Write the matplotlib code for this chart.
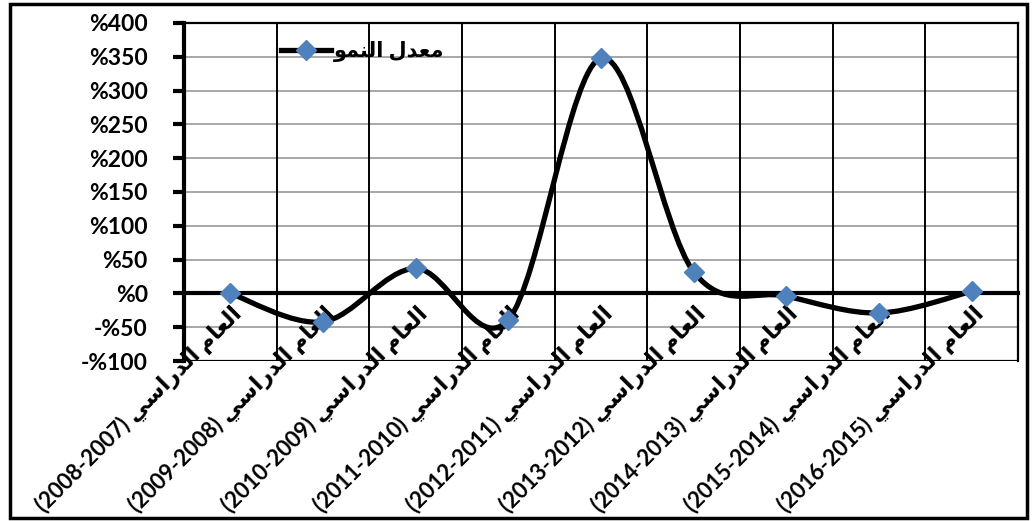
import numpy as np
import matplotlib
matplotlib.use('Agg')
import matplotlib.pyplot as plt
from matplotlib.path import Path
from matplotlib.patches import PathPatch, Rectangle
from matplotlib.lines import Line2D

plt.rcParams['font.family'] = ['Lato', 'DejaVu Sans']
plt.rcParams['font.weight'] = 'bold'

# Arabic words written in presentation forms, visual (left-to-right) order
year_word = '\uFEF2\uFEB3\uFE8D\uFEAD\uFEAA\uFEDF\uFE8D'   # الدراسي
aam_word = '\uFEE1\uFE8E\uFECC\uFEDF\uFE8D'                # العام
legend_label = '\uFEEE\uFEE4\uFEE8\uFEDF\uFE8D \uFEDD\uFEAA\uFECC\uFEE3'  # معدل النمو

years = ['2008-2007', '2009-2008', '2010-2009', '2011-2010', '2012-2011',
         '2013-2012', '2014-2013', '2015-2014', '2016-2015']
growth = [0, -42, 37, -39, 348, 32, -4, -29, 3]
y_ticks = [-100, -50, 0, 50, 100, 150, 200, 250, 300, 350, 400]
y_labels = ['-%100', '-%50', '%0', '%50', '%100', '%150', '%200', '%250',
            '%300', '%350', '%400']

cat_labels = ['(%s) %s %s' % (y, year_word, aam_word) for y in years]

fig = plt.figure(figsize=(10.32, 5.21), dpi=100)
ax = fig.add_axes([184 / 1032, 1 - 361 / 521, (1018 - 184) / 1032, (361 - 23) / 521])

x = np.arange(1, len(growth) + 1)
y = np.array(growth, dtype=float)

# smoothed line like the spreadsheet (Catmull-Rom as cubic Bezier)
verts = [(x[0], y[0])]
codes = [Path.MOVETO]
n = len(x)
for i in range(n - 1):
    p0 = i - 1 if i > 0 else i
    p3 = i + 2 if i + 2 < n else i + 1
    c1 = (x[i] + (x[i + 1] - x[p0]) / 6, y[i] + (y[i + 1] - y[p0]) / 6)
    c2 = (x[i + 1] - (x[p3] - x[i]) / 6, y[i + 1] - (y[p3] - y[i]) / 6)
    verts += [c1, c2, (x[i + 1], y[i + 1])]
    codes += [Path.CURVE4] * 3
ax.add_patch(PathPatch(Path(verts, codes), fill=False, edgecolor='black',
                       lw=3.8, zorder=4, capstyle='round'))
ax.plot(x, y, 'D', color='#4F81BD', markersize=10, zorder=5, linestyle='none')

ax.set_xlim(0.5, len(growth) + 0.5)
ax.set_ylim(-100, 400)
ax.set_yticks(y_ticks)
ax.set_yticklabels(y_labels, fontsize=16.5, fontweight='bold')
ax.tick_params(axis='y', direction='out', length=8, width=3, pad=18)

for v in y_ticks:
    if v not in (0, 400, -100):
        ax.axhline(v, color='#A0A0A0', lw=1.3, zorder=1)
for b in np.arange(1.5, len(growth), 1.0):
    ax.axvline(b, color='black', lw=1.4, zorder=1)
ax.axhline(-100, color='black', lw=1.6, zorder=2)

ax.spines['bottom'].set_position(('data', 0))
ax.spines['bottom'].set_linewidth(3)
ax.spines['bottom'].set_zorder(3)
ax.spines['left'].set_linewidth(3)
ax.spines['top'].set_linewidth(1.6)
ax.spines['right'].set_linewidth(1.6)

ax.set_xticks(x)
ax.set_xticklabels(cat_labels, rotation=45, ha='right', va='top',
                   rotation_mode='anchor', fontsize=16, fontweight='bold')
ax.set_xticks(np.arange(1.5, len(growth), 1.0), minor=True)
ax.tick_params(axis='x', which='major', length=0, pad=6)
ax.tick_params(axis='x', which='minor', direction='inout', length=7, width=1.5)

handle = Line2D([], [], color='black', lw=3.8, marker='D', markersize=10,
                markerfacecolor='#4F81BD', markeredgecolor='#4F81BD')
ax.legend([handle], [legend_label], loc='center left',
          bbox_to_anchor=(0.104, 0.915), frameon=False,
          handlelength=2.4, handletextpad=0.15, borderpad=0,
          prop={'weight': 'bold', 'size': 15})

fig.patches.append(Rectangle((10 / 1032, 3 / 521), 1017 / 1032, 514 / 521,
                             transform=fig.transFigure, fill=False,
                             edgecolor='black', lw=2.5))

fig.savefig('out.png', dpi=100)
